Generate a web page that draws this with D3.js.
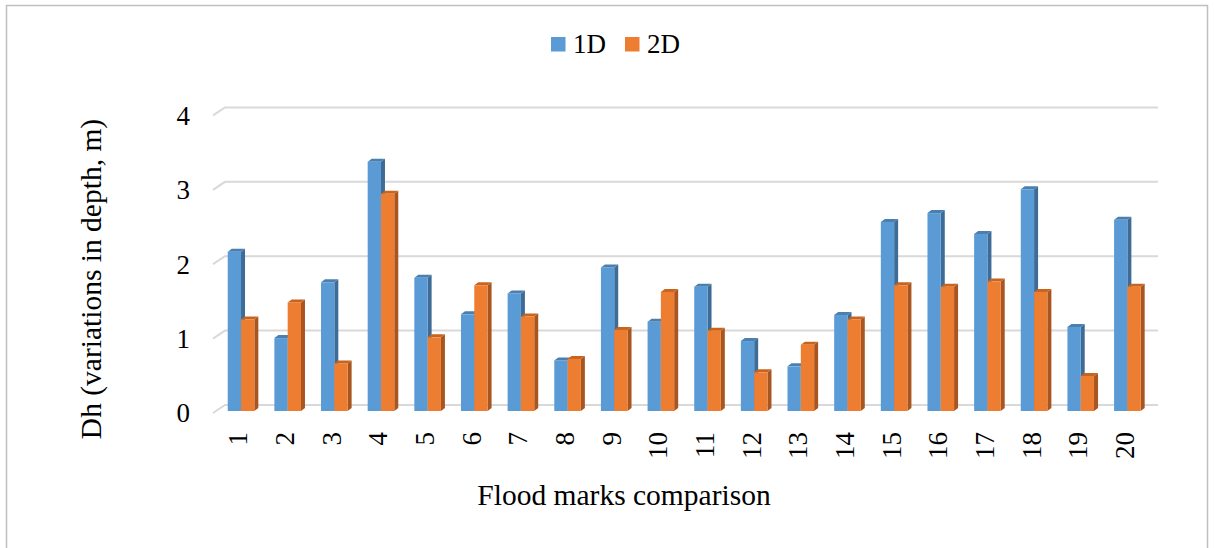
<!DOCTYPE html>
<meta charset="utf-8">
<style>
body { margin: 0; background: #fff; }
text { font-family: "Liberation Serif", "Times New Roman", serif; fill: #000; }
</style>
<svg width="1214" height="548"></svg>
<script src="https://cdn.jsdelivr.net/npm/d3@7"></script>
<script>

var categories = ["1","2","3","4","5","6","7","8","9","10","11","12","13","14","15","16","17","18","19","20"];
var seriesNames = ["1D", "2D"];
var values1D = [2.14, 0.98, 1.73, 3.35, 1.79, 1.30, 1.58, 0.68, 1.93, 1.20, 1.67, 0.94, 0.60, 1.29, 2.54, 2.66, 2.38, 2.98, 1.13, 2.57];
var values2D = [1.23, 1.46, 0.64, 2.92, 0.99, 1.69, 1.27, 0.70, 1.09, 1.60, 1.08, 0.52, 0.89, 1.23, 1.69, 1.67, 1.74, 1.60, 0.47, 1.67];
var yTicks = [0, 1, 2, 3, 4];

var colors = {
  "1D": { front: "#5b9bd5", side: "#3e6c96", top: "#4a7fb0" },
  "2D": { front: "#ed7d31", side: "#a85520", top: "#c9641f" }
};

var svg = d3.select("svg");

// chart frame
svg.append("rect")
    .attr("x", 6.5).attr("y", 5.5)
    .attr("width", 1201).attr("height", 560)
    .attr("fill", "none")
    .attr("stroke", "#bfbfbf")
    .attr("stroke-width", 1.5);

// 3d depth of the wall and of the bars
var barDx = 4, barDy = -3;

var y = d3.scaleLinear().domain([0, 4]).range([411, 411 - 4 * 74.4]);

var x0 = d3.scaleBand().domain(categories).range([217.7, 1150.7]);
var x1 = d3.scaleBand().domain(seriesNames).range([0, 26.6]);
var groupOffset = (x0.bandwidth() - x1.range()[1]) / 2;

// back wall gridlines with slanted left ends
var grid = svg.append("g").attr("class", "grid");
yTicks.forEach(function(v) {
  var yb = y(v) - 6;
  grid.append("path")
      .attr("d", "M213," + (yb + 8) + "L225," + yb + "L1158," + yb)
      .attr("fill", "none")
      .attr("stroke", "#d9d9d9")
      .attr("stroke-width", 2);
});

// y tick labels
svg.append("g").selectAll("text")
  .data(yTicks)
  .enter().append("text")
    .attr("x", 190)
    .attr("y", function(d) { return y(d) + 2; })
    .attr("dy", "0.35em")
    .attr("text-anchor", "end")
    .style("font-size", "27px")
    .text(function(d) { return d; });

// bars
var rows = categories.map(function(c, i) {
  return { cat: c, vals: [
    { s: "1D", v: values1D[i] },
    { s: "2D", v: values2D[i] }
  ]};
});

var bars = svg.append("g").attr("class", "bars");

rows.forEach(function(row) {
  row.vals.forEach(function(d) {
    var c = colors[d.s];
    var xl = x0(row.cat) + groupOffset + x1(d.s),
        w = x1.bandwidth(),
        yt = y(d.v),
        yb = y(0);
    var g = bars.append("g");
    // side face
    g.append("path")
        .attr("d", "M" + (xl + w) + "," + yt +
                   "L" + (xl + w + barDx) + "," + (yt + barDy) +
                   "L" + (xl + w + barDx) + "," + (yb + barDy) +
                   "L" + (xl + w) + "," + yb + "Z")
        .attr("fill", c.side);
    // top face
    g.append("path")
        .attr("d", "M" + xl + "," + yt +
                   "L" + (xl + barDx) + "," + (yt + barDy) +
                   "L" + (xl + w + barDx) + "," + (yt + barDy) +
                   "L" + (xl + w) + "," + yt + "Z")
        .attr("fill", c.top);
    // front face
    g.append("rect")
        .attr("x", xl).attr("y", yt)
        .attr("width", w).attr("height", yb - yt)
        .attr("fill", c.front);
  });
});

// x tick labels, rotated
svg.append("g").selectAll("text")
  .data(categories)
  .enter().append("text")
    .attr("transform", function(d) {
      return "translate(" + (x0(d) + x0.bandwidth() / 2 - 3) + ",432) rotate(-90)";
    })
    .attr("dy", "0.35em")
    .attr("text-anchor", "end")
    .style("font-size", "27px")
    .text(function(d) { return d; });

// axis titles
svg.append("text")
    .attr("x", 624).attr("y", 505)
    .attr("text-anchor", "middle")
    .style("font-size", "29.5px")
    .text("Flood marks comparison");

svg.append("text")
    .attr("transform", "translate(101,279) rotate(-90)")
    .attr("text-anchor", "middle")
    .style("font-size", "29.5px")
    .text("Dh (variations in depth, m)");

// legend
var legend = svg.append("g").attr("class", "legend");
var legendX = [551, 625];
seriesNames.forEach(function(s, i) {
  legend.append("rect")
      .attr("x", legendX[i]).attr("y", 37)
      .attr("width", 14.5).attr("height", 14.5)
      .attr("fill", colors[s].front);
  legend.append("text")
      .attr("x", legendX[i] + 22).attr("y", 53)
      .style("font-size", "27px")
      .text(s);
});

</script>
